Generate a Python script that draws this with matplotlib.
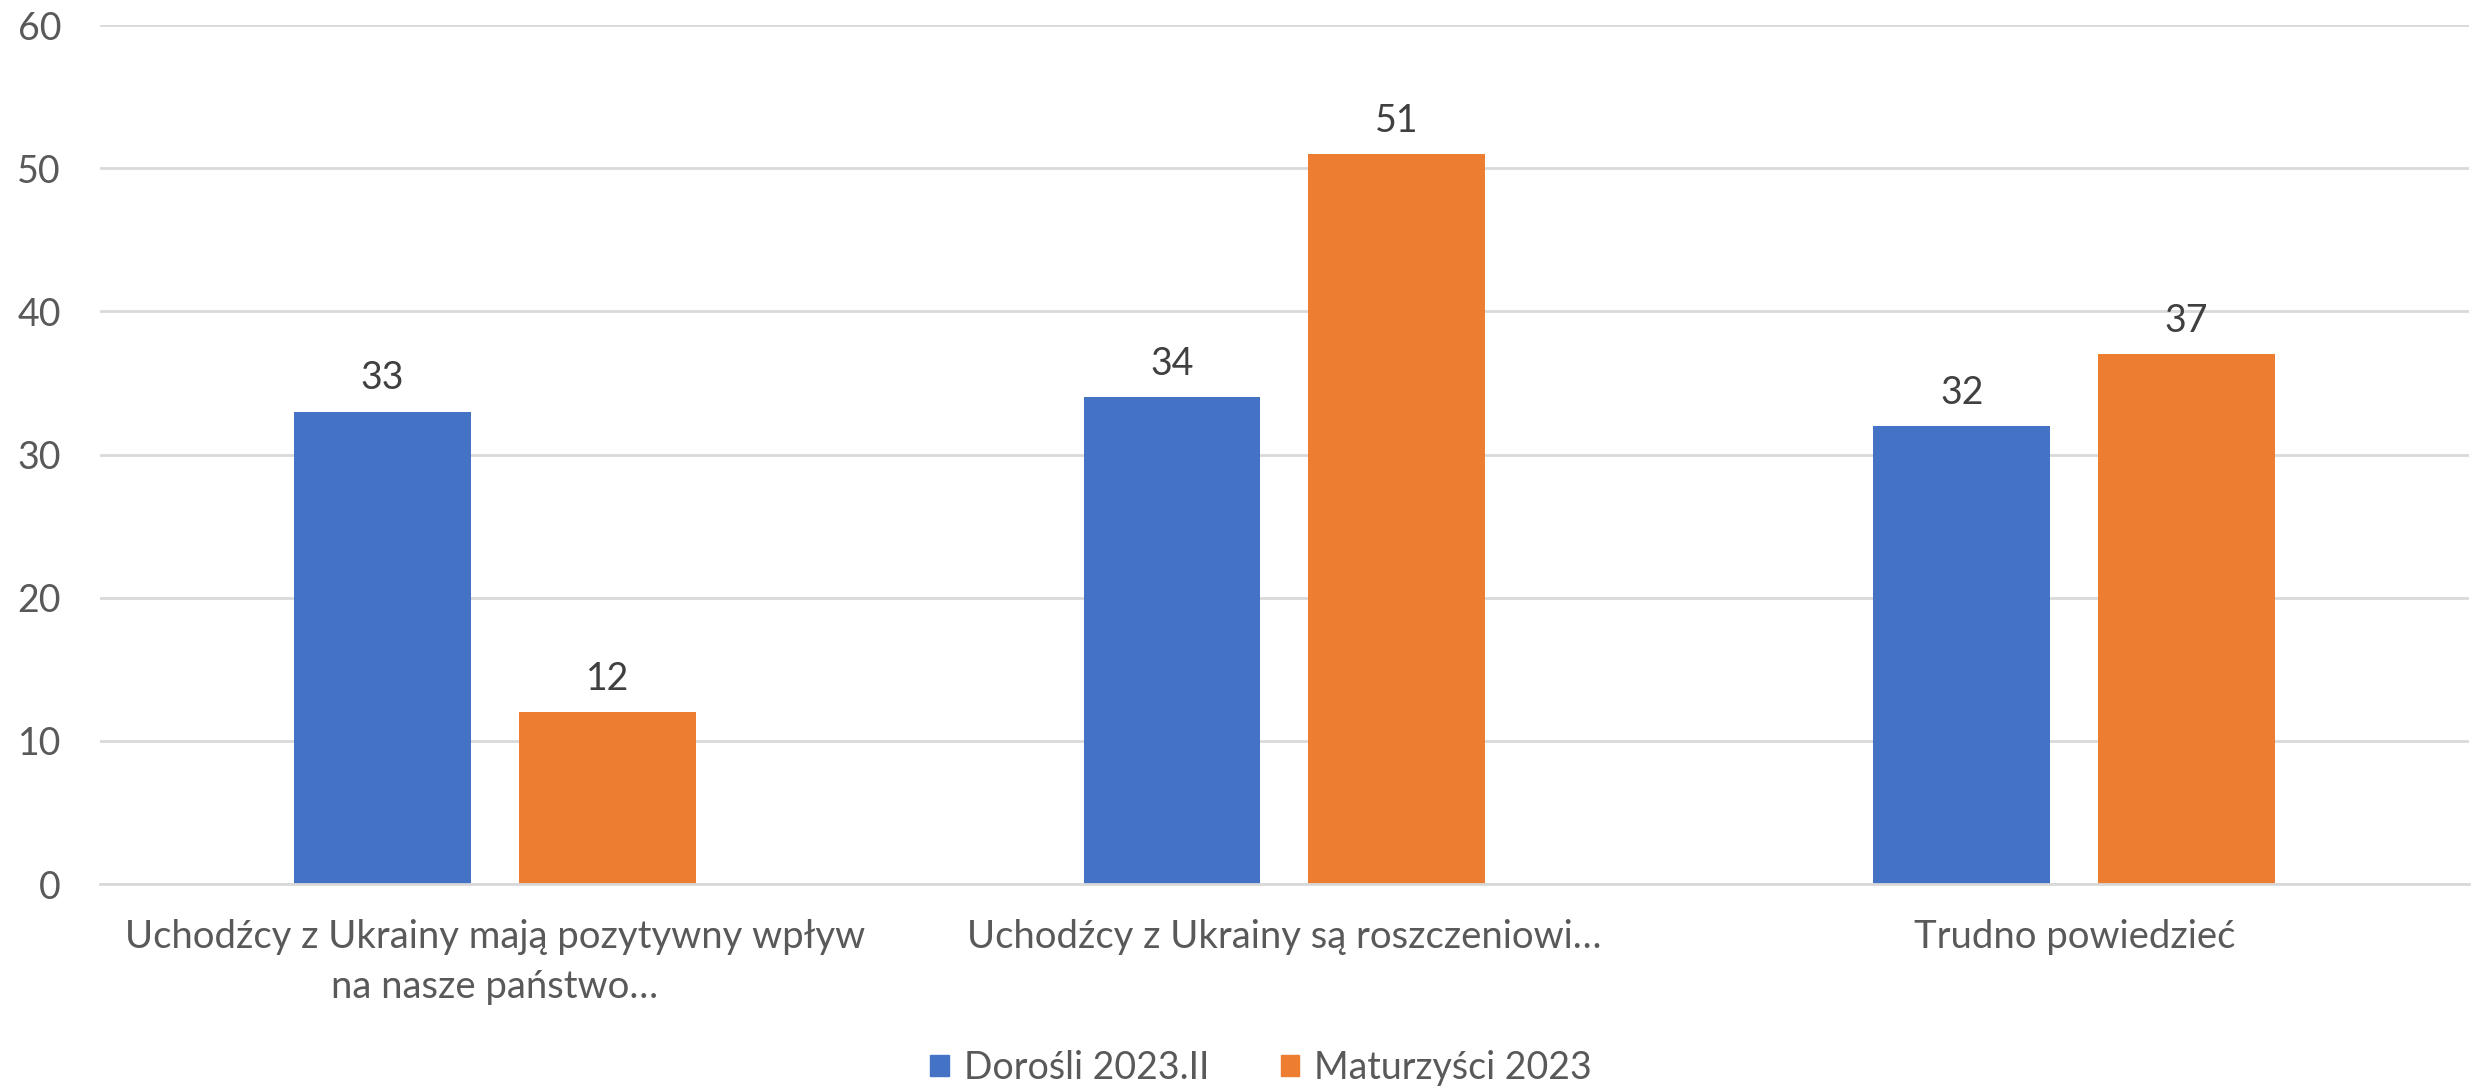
import matplotlib.pyplot as plt
import numpy as np
from matplotlib.patches import Patch

categories = [
    "Uchodźcy z Ukrainy mają pozytywny wpływ\nna nasze państwo…",
    "Uchodźcy z Ukrainy są roszczeniowi…",
    "Trudno powiedzieć",
]
series_names = ["Dorośli 2023.II", "Maturzyści 2023"]
adults = [33, 34, 32]
graduates = [12, 51, 37]
y_ticks = [0, 10, 20, 30, 40, 50, 60]

colors = ["#4472C4", "#ED7D31"]
plt.rcParams['font.family'] = ['Lato', 'DejaVu Sans']

fig = plt.figure(figsize=(24.73, 10.87), dpi=100)
ax = fig.add_axes([0.0404, 0.1867, 0.958, 0.7903])

x = np.arange(len(categories))
width = 0.224
offset = 0.1424

# Draw the two bar series
b1 = ax.bar(x - offset, adults, width, color=colors[0], zorder=2)
b2 = ax.bar(x + offset, graduates, width, color=colors[1], zorder=2)
for bars in (b1, b2):
    ax.bar_label(bars, padding=11, fontsize=27, color="#404040")

ax.set_xlim(-0.5, 2.5)
ax.set_ylim(0, 60)
ax.set_yticks(y_ticks)
ax.yaxis.grid(True, color="#D9D9D9", linewidth=2, zorder=0)
ax.set_axisbelow(True)

ax.set_xticks(x)
ax.set_xticklabels(categories, fontsize=27.5, color="#595959", linespacing=1.5)
ax.tick_params(axis='x', length=0, pad=25)
ax.tick_params(axis='y', length=0, pad=28, labelsize=27, labelcolor="#595959")

for side in ('top', 'right', 'left'):
    ax.spines[side].set_visible(False)
ax.spines['bottom'].set_color("#D9D9D9")
ax.spines['bottom'].set_linewidth(2)

# Legend at the bottom
handles = [Patch(color=c) for c in colors]
fig.legend(handles, series_names, loc='lower center', ncol=2, frameon=False,
           fontsize=27, labelcolor="#595959", handlelength=0.5, handleheight=0.5,
           handletextpad=0.4, columnspacing=1.9, bbox_to_anchor=(0.51, -0.03))

fig.savefig("out.png", dpi=100)
